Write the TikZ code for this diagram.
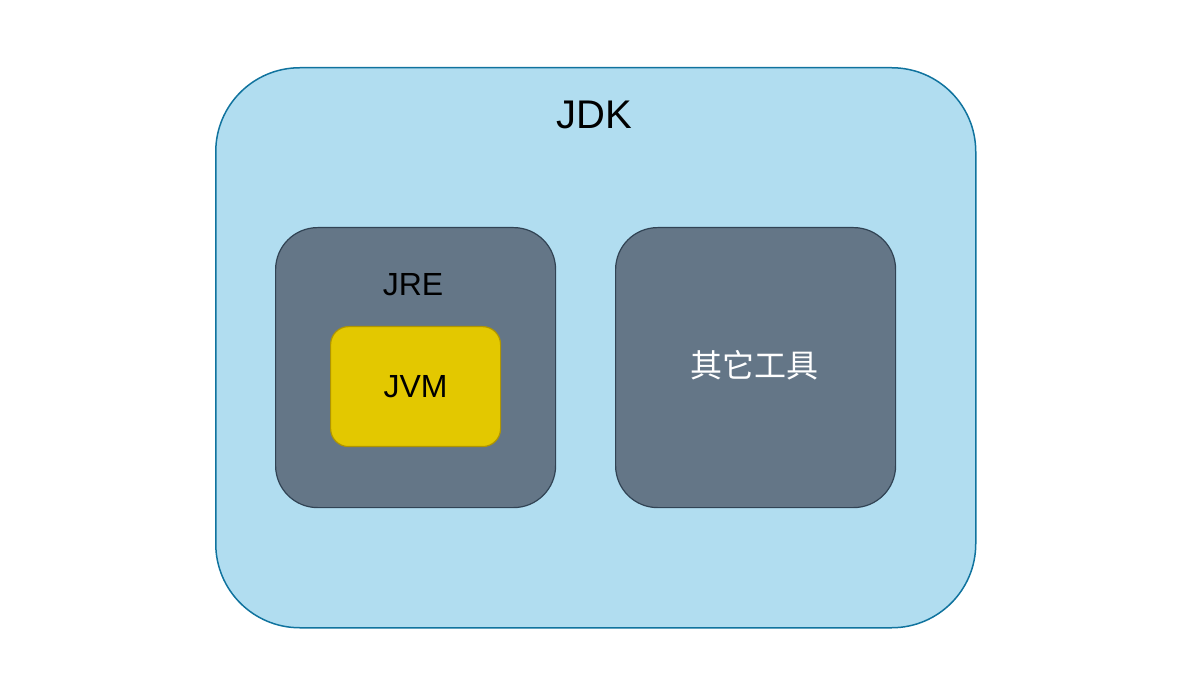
\documentclass[tikz,border=0pt]{standalone}
\usepackage{fontspec}
\setmainfont{Liberation Sans}
\newfontfamily\cjk{Noto Sans CJK SC}
\usetikzlibrary{positioning}

\definecolor{jdkfill}{HTML}{B1DDF0}
\definecolor{jdkline}{HTML}{10739E}
\definecolor{grayfill}{HTML}{647687}
\definecolor{grayline}{HTML}{314354}
\definecolor{jvmfill}{HTML}{E3C800}
\definecolor{jvmline}{HTML}{B09500}

\tikzset{
  box/.style={draw, rounded corners=#1, inner sep=0pt, anchor=north west},
  label/.style={font=\fontsize{32}{36}\selectfont, inner sep=0pt}
}

\begin{document}
\begin{tikzpicture}[x=1pt, y=-1pt]
  \useasboundingbox (0,0) rectangle (1184,684);

  % JDK
  \node[box=84pt, fill=jdkfill, draw=jdkline, line width=1.5pt,
        minimum width=760pt, minimum height=560pt] (jdk) at (215,67) {};
  \node[label, font=\fontsize{40}{44}\selectfont] (jdktext) at (594,115) {JDK};

  % JRE
  \node[box=42pt, fill=grayfill, draw=grayline, line width=1.2pt,
        minimum width=280pt, minimum height=280pt] (jre) at (275,227) {};
  \node[label] (jretext) at (413,285) {JRE};

  % JVM
  \node[box=18pt, fill=jvmfill, draw=jvmline, line width=1.2pt,
        minimum width=170pt, minimum height=120pt] (jvm) at (330,326) {};
  \node[label] (jvmtext) at (jvm.center) {JVM};

  % other tools
  \node[box=42pt, fill=grayfill, draw=grayline, line width=1.2pt,
        minimum width=280pt, minimum height=280pt] (tools) at (615,227) {};
  \node[label, text=white] (toolstext) at (754,365) {\cjk 其它工具};
\end{tikzpicture}
\end{document}
